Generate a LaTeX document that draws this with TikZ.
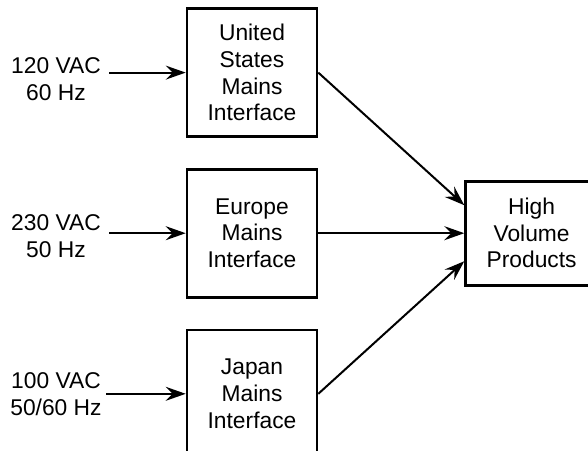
\documentclass[tikz,border=0pt]{standalone}
\usepackage{fontspec}
\setmainfont{Liberation Sans}
\usetikzlibrary{arrows.meta, positioning}

\begin{document}
\begin{tikzpicture}[
		node distance=15pt and 73pt,
		every node/.style={font=\fontsize{11.4pt}{13.3pt}\selectfont},
		mainsbox/.style={draw, line width=1.3pt, minimum width=65pt, minimum height=64pt, align=center, inner sep=0pt},
		loadbox/.style={draw, line width=1.3pt, minimum width=66pt, minimum height=52pt, align=center, inner sep=0pt},
		inlabel/.style={align=center, inner sep=0pt},
		feed/.style={-{Stealth[length=10pt, width=7pt, inset=3.5pt]}, line width=1pt}
	]
	% fixed page size, boxes run past the edges
	\useasboundingbox (0,0) rectangle (294pt,-225pt);
	\clip (0,0) rectangle (294pt,-225pt);

	\node[mainsbox] (us) at (126pt,-36.3pt) {United\\States\\Mains\\Interface};
	\node[mainsbox, below=of us] (eu) {Europe\\Mains\\Interface};
	\node[mainsbox, below=of eu] (jp) {Japan\\Mains\\Interface};
	\node[loadbox, right=of eu] (hv) {High\\Volume\\Products};

	% supply voltages
	\node[inlabel] (v1) at (28pt,-39.5pt) {120 VAC\\60 Hz};
	\node[inlabel] (v2) at (28pt,-118pt) {230 VAC\\50 Hz};
	\node[inlabel] (v3) at (28pt,-197pt) {100 VAC\\50/60 Hz};

	\draw[feed] ([xshift=4pt]v1.east |- us.west) -- (us.west);
	\draw[feed] ([xshift=4pt]v2.east |- eu.west) -- (eu.west);
	\draw[feed] ([xshift=2pt]v3.east |- jp.west) -- (jp.west);

	\draw[feed] (us.east) -- ([yshift=14pt]hv.west);
	\draw[feed] (eu.east) -- (hv.west);
	\draw[feed] (jp.east) -- ([yshift=-14pt]hv.west);
\end{tikzpicture}
\end{document}
